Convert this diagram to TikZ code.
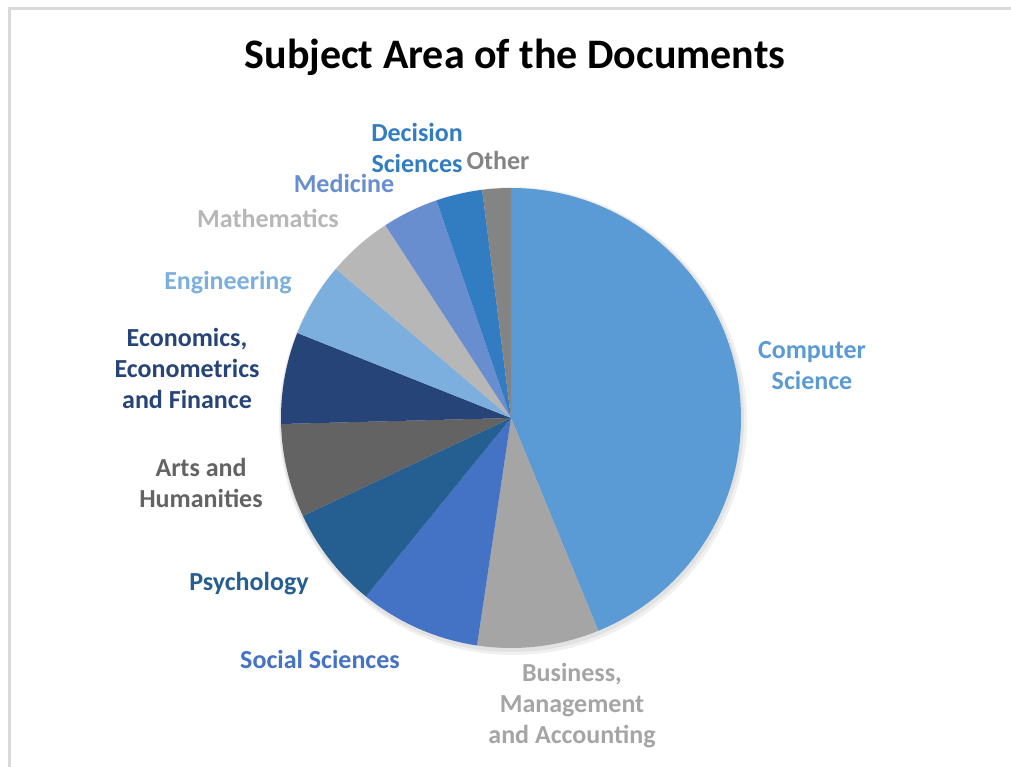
\documentclass[tikz,border=0pt]{standalone}
\usepackage{fontspec}
\setmainfont{Carlito}
\usetikzlibrary{calc}

% slice colours
\definecolor{compsci}{HTML}{5B9BD5}
\definecolor{business}{HTML}{A5A5A5}
\definecolor{socsci}{HTML}{4472C4}
\definecolor{psych}{HTML}{255E91}
\definecolor{arts}{HTML}{636363}
\definecolor{econ}{HTML}{264478}
\definecolor{engin}{HTML}{7CAFDD}
\definecolor{maths}{HTML}{B7B7B7}
\definecolor{medic}{HTML}{698ED0}
\definecolor{decsci}{HTML}{327DC2}
\definecolor{other}{HTML}{848484}
\definecolor{frame}{HTML}{D9D9D9}

\begin{document}
\begin{tikzpicture}[
    x=1pt, y=1pt,
    % Global styles
    slicelabel/.style={font=\bfseries\fontsize{26}{31}\selectfont, align=center, inner sep=0pt},
    titletext/.style={font=\bfseries\fontsize{42}{50}\selectfont, inner sep=0pt}
    ]
    \useasboundingbox (0,0) rectangle (1011,766);

    % Frame (cut at the right and bottom)
    \draw[frame, line width=3pt] (1030,757) -- (9,757) -- (9,-20);

    % Title
    \node[titletext] (title) at (515,709) {Subject Area of the Documents};

    % ===========================
    % PIE
    % ===========================
    \coordinate (c) at (511,348);

    % soft shadow
    \fill[black, opacity=0.06] ($(c)+(2,-3)$) circle[radius=234pt];
    \fill[black, opacity=0.06] ($(c)+(1,-2)$) circle[radius=232pt];

    % Slices, clockwise from the top
    \fill[compsci]  (c) -- ++(90:230pt)     arc[start angle=90,     end angle=-67.7,  radius=230pt] -- cycle;
    \fill[business] (c) -- ++(-67.7:230pt)  arc[start angle=-67.7,  end angle=-98.5,  radius=230pt] -- cycle;
    \fill[socsci]   (c) -- ++(-98.5:230pt)  arc[start angle=-98.5,  end angle=-129.1, radius=230pt] -- cycle;
    \fill[psych]    (c) -- ++(-129.1:230pt) arc[start angle=-129.1, end angle=-154.8, radius=230pt] -- cycle;
    \fill[arts]     (c) -- ++(-154.8:230pt) arc[start angle=-154.8, end angle=-178.5, radius=230pt] -- cycle;
    \fill[econ]     (c) -- ++(-178.5:230pt) arc[start angle=-178.5, end angle=-201.7, radius=230pt] -- cycle;
    \fill[engin]    (c) -- ++(-201.7:230pt) arc[start angle=-201.7, end angle=-220.4, radius=230pt] -- cycle;
    \fill[maths]    (c) -- ++(-220.4:230pt) arc[start angle=-220.4, end angle=-236.9, radius=230pt] -- cycle;
    \fill[medic]    (c) -- ++(-236.9:230pt) arc[start angle=-236.9, end angle=-251.1, radius=230pt] -- cycle;
    \fill[decsci]   (c) -- ++(-251.1:230pt) arc[start angle=-251.1, end angle=-262.8, radius=230pt] -- cycle;
    \fill[other]    (c) -- ++(-262.8:230pt) arc[start angle=-262.8, end angle=-270,   radius=230pt] -- cycle;

    % ===========================
    % LABELS
    % ===========================
    \node[slicelabel, text=compsci]  (cs)    at (812,400) {Computer\\Science};
    \node[slicelabel, text=business] (bus)   at (572,60)  {Business,\\Management\\and Accounting};
    \node[slicelabel, text=socsci]   (soc)   at (320,107) {Social Sciences};
    \node[slicelabel, text=psych]    (psy)   at (249,182) {Psychology};
    \node[slicelabel, text=arts]     (arts)  at (201,283) {Arts and\\Humanities};
    \node[slicelabel, text=econ]     (econ)  at (187,398) {Economics,\\Econometrics\\and Finance};
    \node[slicelabel, text=engin]    (eng)   at (228,483) {Engineering};
    \node[slicelabel, text=maths]    (math)  at (268,548) {Mathematics};
    \node[slicelabel, text=medic]    (med)   at (344,583) {Medicine};
    \node[slicelabel, text=decsci]   (dec)   at (417,618) {Decision\\Sciences};
    \node[slicelabel, text=other]    (oth)   at (498,606) {Other};

\end{tikzpicture}
\end{document}
